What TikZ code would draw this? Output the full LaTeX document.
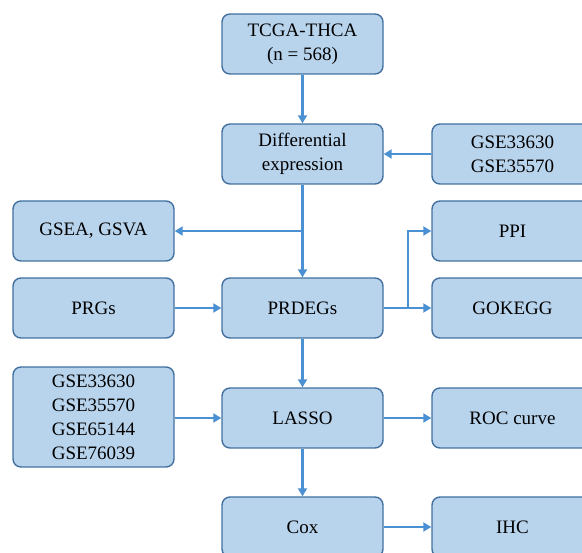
\documentclass[tikz,border=0pt]{standalone}
\usepackage{fontspec}
\setmainfont{Liberation Serif}
\usetikzlibrary{arrows.meta}
\definecolor{boxfill}{RGB}{184,211,236}
\definecolor{boxline}{RGB}{66,113,160}
\definecolor{arrowc}{RGB}{74,144,210}
\begin{document}
\begin{tikzpicture}[x=1pt,y=-1pt,
 box/.style={draw=boxline,fill=boxfill,line width=1.4pt,rounded corners=8pt,minimum width=161pt,minimum height=60pt,align=center,inner sep=0pt,font=\fontsize{19}{24}\selectfont},
 conn/.style={draw=arrowc,line width=2.1pt,-{Triangle[length=8pt,width=9pt]}}]
\useasboundingbox (0,0) rectangle (582,553);
\clip (0,0) rectangle (582,553);
\node[box] (tcga) at (302.5,44) {TCGA-THCA\\(n = 568)};
\node[box] (diff) at (302.5,154) {Differential\\expression};
\node[box] (gse2) at (512.5,154) {GSE33630\\GSE35570};
\node[box] (gsea) at (93.5,231) {GSEA, GSVA};
\node[box] (ppi) at (512.5,231) {PPI};
\node[box] (prgs) at (93.5,308) {PRGs};
\node[box] (prdegs) at (302.5,308) {PRDEGs};
\node[box] (gokegg) at (512.5,308) {GOKEGG};
\node[box,minimum height=100pt] (gse4) at (93.5,417) {GSE33630\\GSE35570\\GSE65144\\GSE76039};
\node[box] (lasso) at (302.5,418) {LASSO};
\node[box] (roc) at (512.5,418) {ROC curve};
\node[box] (cox) at (302.5,527) {Cox};
\node[box] (ihc) at (512.5,527) {IHC};
\coordinate (b1) at (302.5,231);
\coordinate (b2) at (408,308);
\draw[conn] (tcga) -- (diff);
\draw[conn] (gse2) -- (diff);
\draw[conn] (diff) -- (prdegs);
\draw[conn] (b1) -- (gsea);
\draw[conn] (prgs) -- (prdegs);
\draw[conn] (prdegs) -- (gokegg);
\draw[conn] (b2) |- (ppi);
\draw[conn] (prdegs) -- (lasso);
\draw[conn] (gse4.east |- lasso) -- (lasso);
\draw[conn] (lasso) -- (roc);
\draw[conn] (lasso) -- (cox);
\draw[conn] (cox) -- (ihc);
\end{tikzpicture}
\end{document}
